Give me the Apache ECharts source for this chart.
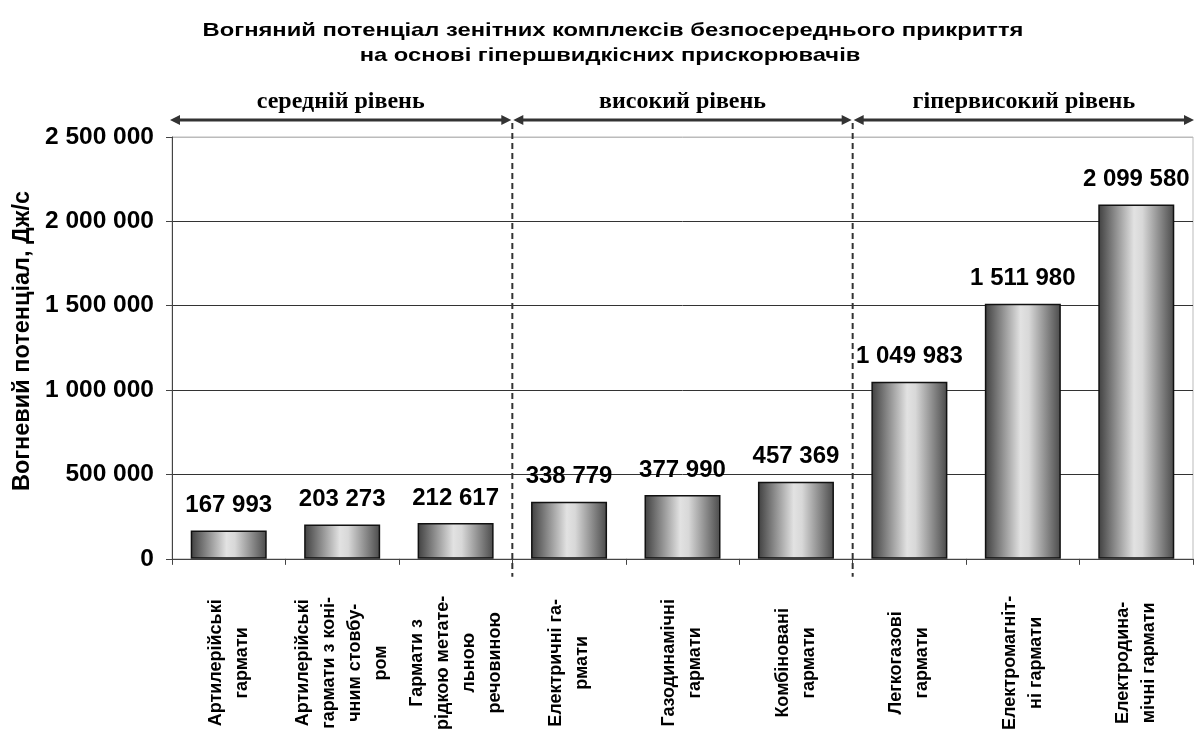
<!DOCTYPE html>
<html>
<head>
<meta charset="utf-8">
<script src="https://cdn.jsdelivr.net/npm/echarts@6/dist/echarts.min.js"></script>
<style>
html,body{margin:0;padding:0;background:#fff;}
#chart{width:1197px;height:733px;}
</style>
</head>
<body>
<div id="chart"></div>
<script>
// ---- data ----
var titleLines = ['Вогняний потенціал зенітних комплексів безпосереднього прикриття', 'на основі гіпершвидкісних прискорювачів'];
var yAxisTitle = 'Вогневий потенціал, Дж/с';
var categories = [
  'Артилерійські\nгармати',
  'Артилерійські\nгармати з коні-\nчним стовбу-\nром',
  'Гармати з\nрідкою метате-\nльною\nречовиною',
  'Електричні га-\nрмати',
  'Газодинамічні\nгармати',
  'Комбіновані\nгармати',
  'Легкогазові\nгармати',
  'Електромагніт-\nні гармати',
  'Електродина-\nмічні гармати'
];
var values = [167993, 203273, 212617, 338779, 377990, 457369, 1049983, 1511980, 2099580];
var yTicks = [0, 500000, 1000000, 1500000, 2000000, 2500000];
var groupLabels = ['середній рівень', 'високий рівень', 'гіпервисокий рівень'];
var groupFirst = [0, 3, 6];
var groupLast = [2, 5, 8];

function fmt(v) { return String(v).replace(/\B(?=(\d{3})+(?!\d))/g, ' '); }

var chart = echarts.init(document.getElementById('chart'), null, {renderer: 'canvas'});
var SANS = '"Liberation Sans", Arial, sans-serif';
var SERIF = '"Liberation Serif", "Times New Roman", serif';

var option = {
  backgroundColor: '#fff',
  animation: false,
  grid: {left: 172, right: 4, top: 137, bottom: 174, show: true, borderColor: '#bbbbbb', borderWidth: 1, backgroundColor: 'transparent'},
  xAxis: {
    type: 'category',
    data: categories,
    axisLine: {lineStyle: {color: '#444', width: 1}},
    axisTick: {show: true, length: 6, lineStyle: {color: '#444'}},
    axisLabel: {
      rotate: 90, align: 'center', verticalAlign: 'middle', margin: 104,
      interval: 0, color: '#000', fontFamily: SANS, fontWeight: 'bold', fontSize: 18, lineHeight: 26
    },
    splitLine: {show: false}
  },
  yAxis: {
    type: 'value',
    min: yTicks[0], max: yTicks[yTicks.length - 1], interval: yTicks[1] - yTicks[0],
    axisLine: {show: true, lineStyle: {color: '#444', width: 1}},
    axisTick: {show: true, length: 6, lineStyle: {color: '#444'}},
    axisLabel: {color: '#000', fontFamily: SANS, fontWeight: 'bold', fontSize: 24.5, margin: 18, formatter: fmt},
    splitLine: {show: true, lineStyle: {color: ['#333', '#333', '#333', '#333', '#333', '#bbbbbb'], width: 1}}
  },
  series: [{
    type: 'bar',
    data: values,
    barWidth: 76,
    itemStyle: {
      borderColor: '#111', borderWidth: 1.5,
      color: new echarts.graphic.LinearGradient(0, 0, 1, 0, [
        {offset: 0, color: '#3f3f3f'},
        {offset: 0.47, color: '#e2e2e2'},
        {offset: 0.58, color: '#d8d8d8'},
        {offset: 1, color: '#4a4a4a'}
      ])
    },
    label: {
      show: true, position: 'top', distance: 13, color: '#000',
      fontFamily: SANS, fontWeight: 'bold', fontSize: 24, formatter: function (p) { return fmt(p.value); }
    }
  }]
};
chart.setOption(option);

// ---- overlays computed from the axis scale ----
function catX(i) { return chart.convertToPixel({xAxisIndex: 0}, categories[i]); }
var half = (catX(1) - catX(0)) / 2;
var yTop = chart.convertToPixel({yAxisIndex: 0}, yTicks[yTicks.length - 1]);
var yZero = chart.convertToPixel({yAxisIndex: 0}, 0);
var arrowY = yTop - 17;
var g = [];
var ah = 10, aw = 5;
for (var k = 0; k < groupLabels.length; k++) {
  var x1 = catX(groupFirst[k]) - half + 1;
  var x2 = catX(groupLast[k]) + half - 1;
  if (k === groupLabels.length - 1) x2 += 2;
  if (k === 0) x1 -= 3;
  g.push({type: 'line', shape: {x1: x1 + ah - 2, y1: arrowY, x2: x2 - ah + 2, y2: arrowY}, style: {stroke: '#333', lineWidth: 3}, z: 10});
  g.push({type: 'polygon', shape: {points: [[x1, arrowY], [x1 + ah, arrowY - aw], [x1 + ah, arrowY + aw]]}, style: {fill: '#333'}, z: 10});
  g.push({type: 'polygon', shape: {points: [[x2, arrowY], [x2 - ah, arrowY - aw], [x2 - ah, arrowY + aw]]}, style: {fill: '#333'}, z: 10});
  g.push({type: 'text', x: (x1 + x2) / 2, y: arrowY - 18, style: {text: groupLabels[k], font: 'bold 24px ' + SERIF, fill: '#000', textAlign: 'center', textVerticalAlign: 'middle'}, z: 10});
  if (k > 0) {
    var bx = catX(groupFirst[k]) - half;
    g.push({type: 'line', shape: {x1: bx, y1: arrowY + 3, x2: bx, y2: yZero + 18}, style: {stroke: '#333', lineWidth: 2, lineDash: [6, 4]}, z: 10});
  }
}
g.push({type: 'text', x: 613, y: 31, scaleX: 1.25, style: {text: titleLines[0], font: 'bold 19px ' + SANS, fill: '#000', textAlign: 'center', textVerticalAlign: 'middle'}});
g.push({type: 'text', x: 610, y: 56, scaleX: 1.25, style: {text: titleLines[1], font: 'bold 19px ' + SANS, fill: '#000', textAlign: 'center', textVerticalAlign: 'middle'}});
g.push({type: 'text', x: 23, y: 341, rotation: Math.PI / 2, style: {text: yAxisTitle, font: 'bold 23.5px ' + SANS, fill: '#000', textAlign: 'center', textVerticalAlign: 'middle'}});
chart.setOption({graphic: g});
</script>
</body>
</html>
